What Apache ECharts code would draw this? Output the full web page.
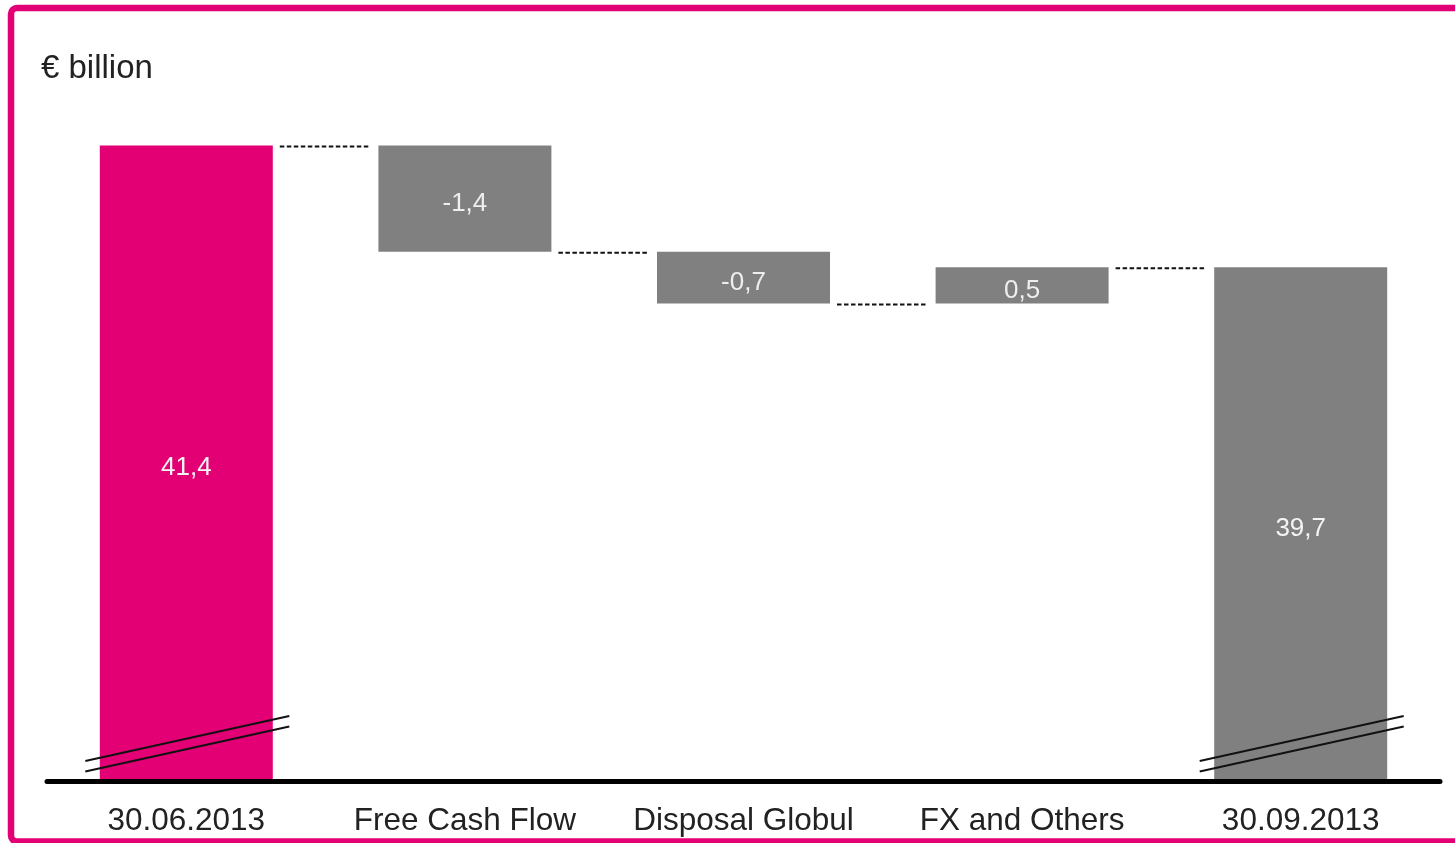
<!DOCTYPE html>
<html><head><meta charset="utf-8">
<script src="https://cdn.jsdelivr.net/npm/echarts@6/dist/echarts.min.js"></script>
<style>html,body{margin:0;padding:0;background:#fff}#c{width:1455px;height:843px}</style>
</head><body><div id="c"></div>
<script>
const categories = ['30.06.2013', 'Free Cash Flow', 'Disposal Globul', 'FX and Others', '30.09.2013'];
const startValue = 41.38;
const changes = [-1.44, -0.70, 0.49];
const endValue = 39.73;
const unitLabel = '€ billion';

const PINK = '#E20074', GREY = '#808080';
const FONT = 'Liberation Sans, Arial, sans-serif';
const Y_MIN = 32.77, Y_MAX = 42;
const BAR_W = 173;

const levels = [startValue];
changes.forEach(d => levels.push(+(levels[levels.length - 1] + d).toFixed(4)));
const baseData = ['-'].concat(changes.map((d, i) => Math.min(levels[i], levels[i + 1]))).concat(['-']);
const deltaData = ['-'].concat(changes.map(d => +Math.abs(d).toFixed(4))).concat(['-']);
const totalData = [startValue, '-', '-', '-', endValue];
const connectorData = levels.map((l, i) => [i, l]);
const breakData = [[0, Y_MIN], [categories.length - 1, Y_MIN]];

const fmt = v => v.toFixed(1).replace('.', ',');

const chart = echarts.init(document.getElementById('c'), null, {renderer: 'canvas'});
chart.setOption({
  backgroundColor: '#fff',
  animation: false,
  graphic: [
    {type: 'rect', shape: {x: 11, y: 8, width: 1470, height: 833.5, r: 6},
     style: {fill: 'none', stroke: PINK, lineWidth: 6.5}, z: 100, silent: true},
    {type: 'text', x: 41, y: 69, style: {text: unitLabel, font: '33px ' + FONT, fill: '#222', textVerticalAlign: 'middle'}, silent: true}
  ],
  grid: {left: 47, right: 15, top: 99.8, bottom: 62, containLabel: false},
  xAxis: {
    type: 'category', data: categories, z: 10,
    axisLine: {show: true, lineStyle: {color: '#000', width: 5}},
    axisTick: {show: false},
    axisLabel: {interval: 0, fontSize: 31.5, fontFamily: FONT, color: '#222', margin: 24}
  },
  yAxis: {type: 'value', min: Y_MIN, max: Y_MAX, show: false, splitLine: {show: false}},
  series: [
    {type: 'bar', stack: 'w', data: baseData, barWidth: BAR_W, clip: true,
     itemStyle: {color: 'rgba(0,0,0,0)'}, silent: true},
    {type: 'bar', stack: 'w', data: deltaData, barWidth: BAR_W, clip: true,
     itemStyle: {color: GREY},
     label: {show: true, position: 'inside', offset: [0, 5], fontSize: 26, fontFamily: FONT, color: '#eeeeee',
             formatter: p => fmt(changes[p.dataIndex - 1])}},
    {type: 'bar', stack: 'w', data: totalData, barWidth: BAR_W, clip: true,
     itemStyle: {color: p => p.dataIndex === 0 ? PINK : GREY},
     label: {show: true, position: 'inside', offset: [0, 5], fontSize: 26, fontFamily: FONT,
             color: '#f4f4f4', formatter: p => fmt(p.value)}},
    {type: 'custom', data: connectorData, z: 5, silent: true,
     renderItem: (params, api) => {
       const i = api.value(0), l = api.value(1);
       const a = api.coord([i, l]);
       const b = api.coord([i + 1, l]);
       return {type: 'line',
         shape: {x1: a[0] + BAR_W / 2 + 7, y1: a[1] + 1, x2: b[0] - BAR_W / 2 - 8, y2: a[1] + 1},
         style: {stroke: '#111', lineWidth: 2, lineDash: [4.5, 2.5]}};
     }},
    {type: 'custom', data: breakData, z: 6, silent: true,
     renderItem: (params, api) => {
       const c = api.coord([api.value(0), api.value(1)]);
       const mk = dy => ({type: 'line',
         shape: {x1: c[0] - 101, y1: c[1] + dy, x2: c[0] + 103, y2: c[1] + dy - 45},
         style: {stroke: '#111', lineWidth: 1.8}});
       return {type: 'group', children: [mk(-20), mk(-9.5)]};
     }}
  ]
});
</script></body></html>
